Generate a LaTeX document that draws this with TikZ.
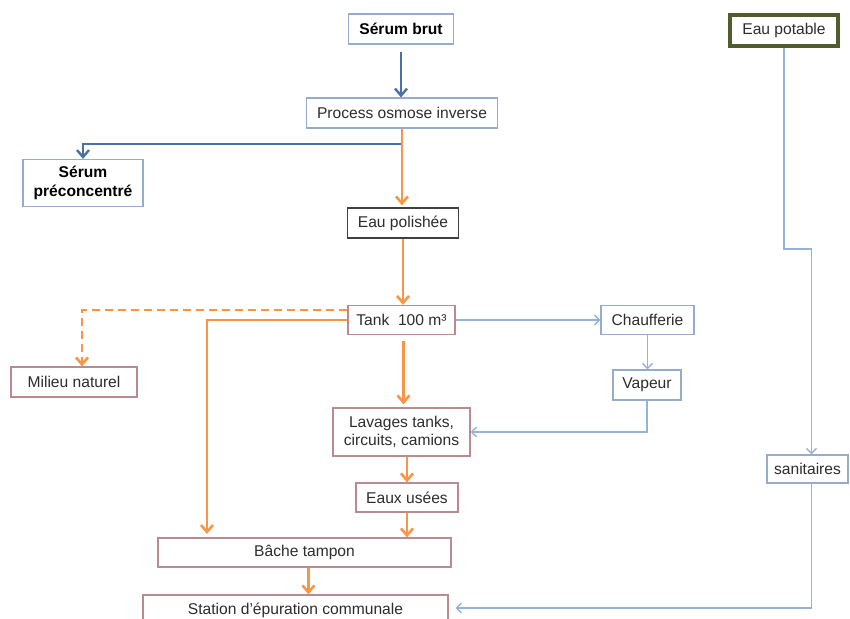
\documentclass[tikz,border=0pt]{standalone}
\usepackage{fontspec}
\setmainfont{Liberation Sans}
\usetikzlibrary{calc,arrows.meta}

\definecolor{flowblue}{RGB}{74,112,170}
\definecolor{floworange}{RGB}{247,150,70}
\definecolor{thinblue}{RGB}{149,179,215}
\definecolor{boxblue}{RGB}{150,172,205}
\definecolor{boxred}{RGB}{185,138,143}
\definecolor{boxolive}{RGB}{80,92,45}
\definecolor{txtgray}{RGB}{45,45,45}

\begin{document}
\begin{tikzpicture}[x=0.5pt,y=-0.5pt,
  box/.style={draw, line width=0.6pt, fill=white, text=txtgray, inner sep=0pt,
    align=center, font=\fontsize{7.8}{8.8}\selectfont},
  bbox/.style={box, draw=boxblue},
  rbox/.style={box, draw=boxred},
  bluearrow/.style={-{Straight Barb[length=3.5pt,width=6pt]}, draw=flowblue, line width=1.2pt},
  orangearrow/.style={-{Straight Barb[length=3.5pt,width=6pt]}, draw=floworange, line width=1.3pt},
  thinarrow/.style={-{Straight Barb[length=2.5pt,width=5pt]}, draw=thinblue, line width=0.7pt}]
\clip (0,0) rectangle (850,619);
\fill[white] (0,0) rectangle (850,619);

% boxes
\node[bbox, minimum width=52.5pt, minimum height=15pt, font=\fontsize{7.8}{8.8}\selectfont\bfseries, text=black] (brut) at (401,29) {Sérum brut};
\node[bbox, minimum width=95.5pt, minimum height=15pt] (osmose) at (402,113) {Process osmose inverse};
\node[bbox, minimum width=60pt, minimum height=23.5pt, font=\fontsize{7.8}{9.5}\selectfont\bfseries, text=black] (precon) at (83,183) {Sérum\\préconcentré};
\node[box, draw=black!75, minimum width=55.5pt, minimum height=15pt] (polish) at (403,223) {Eau polishée};
\node[rbox, minimum width=53.5pt, minimum height=14.5pt] (tank) at (401.5,320) {Tank~ 100 m³};
\node[bbox, minimum width=46.5pt, minimum height=14.5pt] (chauf) at (647.5,320) {Chaufferie};
\node[bbox, minimum width=34pt, minimum height=15pt] (vapeur) at (647,385) {Vapeur};
\node[rbox, minimum width=63pt, minimum height=15pt] (milieu) at (74,382) {Milieu naturel};
\node[rbox, minimum width=68.5pt, minimum height=24pt] (lavage) at (401.5,432) {Lavages tanks,\\circuits, camions};
\node[rbox, minimum width=51pt, minimum height=14.5pt] (usees) at (407,497.5) {Eaux usées};
\node[rbox, minimum width=146.5pt, minimum height=14.5pt] (bache) at (304.5,552.5) {Bâche tampon};
\node[rbox, minimum width=152.5pt, minimum height=15pt] (station) at (295.5,610) {Station d’épuration communale};
\node[box, draw=boxolive, line width=1.6pt, minimum width=54pt, minimum height=15.5pt] (potable) at (784,30.5) {Eau potable};
\node[bbox, minimum width=40.5pt, minimum height=14pt] (sanit) at (807.5,469) {sanitaires};

% points for free ends and bends
\coordinate (split) at (402,144);
\coordinate (tankleft) at (207,538);
\coordinate (pbend) at (784,249);

% main line
\draw[bluearrow, shorten <=3.5pt] (brut) -- (brut.south |- osmose.north);
\draw[bluearrow] (split) -| (precon.north);
\draw[orangearrow, shorten >=1pt] (osmose) -- (osmose.south |- polish.north);
\draw[orangearrow] (polish) -- (polish.south |- tank.north);
\draw[orangearrow, dash pattern=on 4pt off 2.5pt] ([yshift=5pt]tank.west) -| ([xshift=4pt]milieu.north);
\draw[orangearrow, shorten >=2pt] (tank.west) -| (tankleft);
\draw[orangearrow, shorten <=3pt, shorten >=1.5pt] ([xshift=1pt]tank.south) -- ([xshift=1pt]tank.south |- lavage.north);
\draw[orangearrow] (usees.north |- lavage.south) -- (usees.north);
\draw[orangearrow] (usees.south) -- (usees.south |- bache.north);
\draw[orangearrow] ([xshift=2pt]bache.south) -- ([xshift=2pt]bache.south |- station.north);

% steam and water
\draw[thinarrow] (tank.east) -- (chauf.west);
\draw[thinarrow] (chauf.south) -- (chauf.south |- vapeur.north);
\draw[thinarrow] (vapeur.south) |- (lavage.east);
\draw[thinarrow] (potable.south) -- (pbend) -| ([xshift=2pt]sanit.north);
\draw[thinarrow, shorten >=3.5pt] ([xshift=2pt]sanit.south) |- ([yshift=1pt]station.east);
\end{tikzpicture}
\end{document}
